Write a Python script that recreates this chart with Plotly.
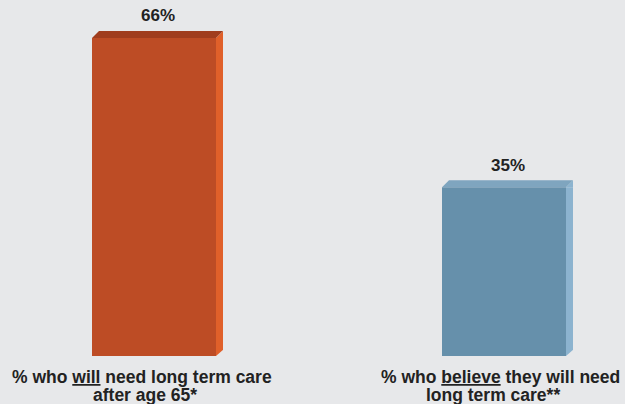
import plotly.graph_objects as go

# ---- data ----
categories = ["will", "believe"]
values = [66, 35]
value_labels = ["66%", "35%"]
label_line1 = ["% who <u>will</u> need long term care", "% who <u>believe</u> they will need"]
label_line2 = ["after age 65*", "long term care**"]

# ---- style ----
front_colors = ["#bd4c25", "#6690ab"]
side_colors = ["#e0602a", "#8cb3cf"]
top_colors = ["#a03d1e", "#7fa5bf"]
bg = "#e7e8ea"
txt = "#222222"
FONT = "Liberation Sans, Arial, sans-serif"

HALF = 62   # half bar width in px
DEPTH = 7   # 3D depth in px

fig = go.Figure()
fig.add_trace(go.Bar(
    x=categories, y=values, width=124 / 350,
    marker=dict(color=front_colors, line=dict(width=0)),
    hoverinfo="skip",
))

shapes = []
for i, (c, v) in enumerate(zip(categories, values)):
    shapes.append(dict(type="path", xref="x", yref="y", xsizemode="pixel", xanchor=i,
                       ysizemode="scaled",
                       path=f"M {HALF},0 L {HALF},{v} L {HALF+DEPTH},{v} L {HALF+DEPTH},0 Z",
                       fillcolor=side_colors[i], line=dict(width=0), layer="above"))
    shapes.append(dict(type="path", xref="x", yref="y", xsizemode="pixel", ysizemode="pixel",
                       xanchor=i, yanchor=0,
                       path=f"M {HALF},0 L {HALF+DEPTH+1},0 L {HALF+DEPTH+1},{DEPTH} Z",
                       fillcolor=bg, line=dict(width=0), layer="above"))
    shapes.append(dict(type="path", xref="x", yref="y", xsizemode="pixel", ysizemode="pixel",
                       xanchor=i, yanchor=v,
                       path=f"M {HALF},0 L {HALF+DEPTH},{DEPTH} L {HALF+DEPTH},0 Z",
                       fillcolor=side_colors[i], line=dict(width=0), layer="above"))
    shapes.append(dict(type="path", xref="x", yref="y", xsizemode="pixel", ysizemode="pixel",
                       xanchor=i, yanchor=v,
                       path=f"M {-HALF},0 L {-HALF+DEPTH},{DEPTH} L {HALF+DEPTH},{DEPTH} L {HALF},0 Z",
                       fillcolor=top_colors[i], line=dict(width=0), layer="above"))

annotations = []
line1_shift = [-12, -4]
line2_shift = [-9, -11]
for i, c in enumerate(categories):
    annotations.append(dict(x=c, y=values[i], xref="x", yref="y", text=f"<b>{value_labels[i]}</b>",
                            showarrow=False, yanchor="middle", xshift=4, yshift=22,
                            font=dict(family=FONT, size=17, color=txt)))
    annotations.append(dict(x=c, y=0, xref="x", yref="y", text=f"<b>{label_line1[i]}</b>",
                            showarrow=False, yanchor="middle", xshift=line1_shift[i], yshift=-21,
                            font=dict(family=FONT, size=17.5, color=txt)))
    annotations.append(dict(x=c, y=0, xref="x", yref="y", text=f"<b>{label_line2[i]}</b>",
                            showarrow=False, yanchor="middle", xshift=line2_shift[i], yshift=-38.5,
                            font=dict(family=FONT, size=17.5, color=txt)))

fig.update_layout(
    width=625, height=404,
    margin=dict(l=0, r=0, t=2, b=48),
    paper_bgcolor=bg, plot_bgcolor=bg,
    showlegend=False,
    shapes=shapes, annotations=annotations,
    xaxis=dict(range=[-0.44, 1.3457], showticklabels=False, showgrid=False,
               zeroline=False, showline=False, fixedrange=True),
    yaxis=dict(range=[0, 354 / 4.82], showticklabels=False, showgrid=False,
               zeroline=False, showline=False, fixedrange=True),
)

fig.write_html("out.html", config={"displayModeBar": False},
               post_script="document.body.style.margin='0';document.body.style.overflow='hidden';")
